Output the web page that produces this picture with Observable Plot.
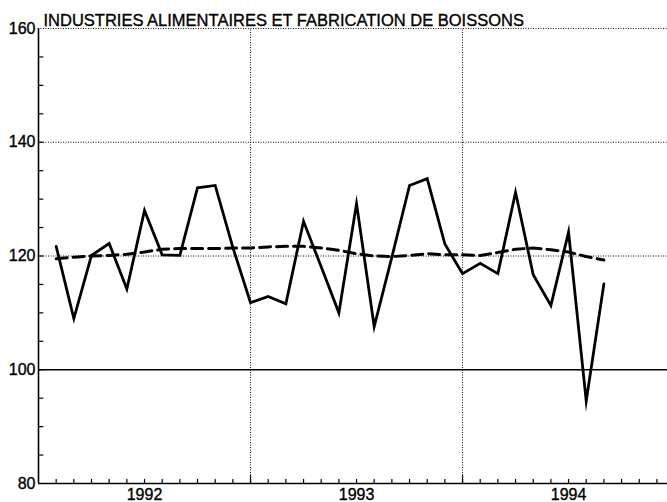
<!DOCTYPE html>
<html>
<head>
<meta charset="utf-8">
<script src="https://cdn.jsdelivr.net/npm/d3@7"></script>
<script src="https://cdn.jsdelivr.net/npm/@observablehq/plot@0.6"></script>
<style>
  html, body { margin: 0; padding: 0; background: white; }
  #chart svg { display: block; }
  #chart svg text { stroke: black; stroke-width: 0.35px; }
</style>
</head>
<body>
<div id="chart"></div>
<script>
// Month index: 0 = start of 1992, 12 = start of 1993, 24 = start of 1994
const months = [1,2,3,4,5,6,7,8,9,10,11,12,13,14,15,16,17,18,19,20,21,22,23,24,25,26,27,28,29,30,31,32];
const observed = [121.7,109.0,120.1,122.2,114.2,128.0,120.2,120.1,132.0,132.4,121.5,111.8,112.9,111.6,126.1,118.1,110.0,129.2,107.6,119.8,132.4,133.6,122.1,116.9,118.7,116.9,131.2,116.7,111.3,124.2,94.5,115.1];
const trend = [119.5,119.8,120.0,120.1,120.3,120.7,121.2,121.3,121.3,121.3,121.4,121.4,121.6,121.7,121.7,121.4,121.0,120.4,120.0,119.9,120.1,120.4,120.2,120.2,120.1,120.6,121.2,121.4,121.1,120.7,119.9,119.3];
const yearLabels = ["1992","1993","1994"];
const yearMids = [6,18,30];
const yearStarts = [12,24];
const tickMonths = d3.range(1, 36);
const yMajor = [80,100,120,140,160];
const yMinor = d3.range(85, 160, 5);
const dottedGrid = [120,140,160];
const title = "INDUSTRIES ALIMENTAIRES ET FABRICATION DE BOISSONS";

const series = months.map((m, i) => ({m, obs: observed[i], tr: trend[i]}));
const years = yearLabels.map((label, i) => ({label, mid: yearMids[i]}));

const chart = Plot.plot({
  width: 667,
  height: 502,
  marginLeft: 38,
  marginRight: 0,
  marginTop: 28,
  marginBottom: 19,
  style: {fontFamily: "'Liberation Sans', Arial, sans-serif", fontSize: "16px", background: "white", color: "black"},
  x: {domain: [0, 35.6], axis: null},
  y: {domain: [80, 160], axis: null},
  marks: [
    // dotted gridlines
    Plot.ruleY(dottedGrid, {stroke: "#111", strokeWidth: 1, strokeDasharray: "1,1.5"}),
    Plot.ruleX(yearStarts, {y1: 80, y2: 160, stroke: "#111", strokeWidth: 1, strokeDasharray: "1,1.5"}),
    // solid 100 line
    Plot.ruleY([100], {stroke: "black", strokeWidth: 1.4}),
    // axes lines
    Plot.ruleX([0], {y1: 80, y2: 160, stroke: "black", strokeWidth: 1.6}),
    Plot.ruleY([80], {stroke: "black", strokeWidth: 1.6}),
    // minor ticks (inward)
    Plot.ruleY(yMinor, {x1: 0, x2: 0.3, stroke: "black", strokeWidth: 1.2}),
    Plot.ruleX(tickMonths, {y1: 80, y2: 80.7, stroke: "black", strokeWidth: 1.2}),
    Plot.ruleX(yearStarts, {y1: 80, y2: 81.5, stroke: "black", strokeWidth: 1.2}),
    // y labels
    Plot.axisY({ticks: yMajor, tickSize: 0, tickPadding: 3, label: null, fontSize: 16}),
    // year labels
    Plot.text(years, {x: "mid", y: 80, text: "label", dy: 5, lineAnchor: "top", fontSize: 16}),
    // trend (dashed)
    Plot.line(series, {x: "m", y: "tr", stroke: "black", strokeWidth: 3, strokeDasharray: "11,6"}),
    // observed
    Plot.line(series, {x: "m", y: "obs", stroke: "black", strokeWidth: 2.8, strokeLinejoin: "miter", strokeMiterlimit: 10}),
    // title
    Plot.text([title], {x: 0, y: 160, text: d => d, textAnchor: "start", lineAnchor: "bottom", dx: 5, dy: -3, fontSize: 16.5})
  ]
});
document.getElementById("chart").appendChild(chart);
</script>
</body>
</html>
